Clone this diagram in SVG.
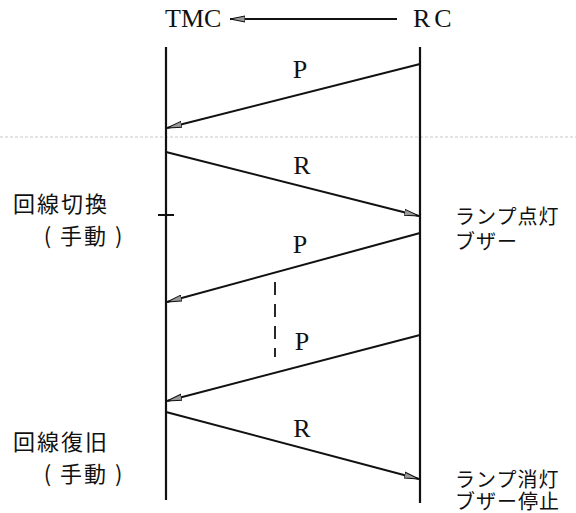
<svg xmlns="http://www.w3.org/2000/svg" width="576" height="513" viewBox="0 0 576 513">
<style>
.lat{font-family:"Liberation Serif","Times New Roman",serif;font-size:26px;fill:#111}
.jp{font-family:"Noto Sans CJK JP","Noto Sans",sans-serif;font-size:22px;fill:#111;letter-spacing:2px}
.jr{font-family:"Noto Sans CJK JP","Noto Sans",sans-serif;font-size:20px;fill:#111;letter-spacing:1px}
.life{stroke:#111;stroke-width:2.2;fill:none}
.msg{stroke:#111;stroke-width:2;fill:none;marker-end:url(#ah)}
</style>
<defs>
<marker id="ah" markerWidth="16" markerHeight="8" refX="15" refY="4" orient="auto" markerUnits="userSpaceOnUse">
<path d="M0,1 L15,4 L0,7 Z" fill="#999" stroke="#111" stroke-width="1"/>
</marker>
</defs>
<rect width="576" height="513" fill="#fff"/>
<line x1="0" y1="137" x2="576" y2="137" stroke="#c8c8c8" stroke-width="1" stroke-dasharray="3,2"/>
<g id="TMC">
<text class="lat" x="165" y="27">TMC</text>
<line class="life" x1="166" y1="47" x2="166" y2="500"/>
<line x1="158" y1="215" x2="174" y2="215" stroke="#111" stroke-width="2"/>
</g>
<g id="RC">
<text class="lat" x="413" y="27" letter-spacing="4">RC</text>
<line class="life" x1="420" y1="47" x2="420" y2="503"/>
</g>
<g id="left-labels">
<text class="jp" x="13" y="212">回線切換</text>
<text class="jp" x="84" y="244" text-anchor="middle">( 手動 )</text>
<text class="jp" x="13" y="450">回線復旧</text>
<text class="jp" x="84" y="482" text-anchor="middle">( 手動 )</text>
</g>
<g id="right-labels">
<text class="jr" x="455" y="224">ランプ点灯</text>
<text class="jr" x="455" y="249">ブザー</text>
<text class="jr" x="455" y="487">ランプ消灯</text>
<text class="jr" x="455" y="509">ブザー停止</text>
</g>
<g id="connectors">
<line class="msg" x1="397" y1="19" x2="230" y2="19" stroke-width="1.6"/>
<line class="msg" x1="420" y1="64" x2="167" y2="128"/>
<line class="msg" x1="166" y1="152" x2="419" y2="216"/>
<line class="msg" x1="420" y1="233" x2="167" y2="302"/>
<line class="msg" x1="420" y1="335" x2="167" y2="401"/>
<line class="msg" x1="166" y1="412" x2="419" y2="479"/>
<line x1="275" y1="282" x2="275" y2="357" stroke="#111" stroke-width="1.8" stroke-dasharray="13,9"/>
</g>
<g id="msg-labels">
<text class="lat" x="300" y="78" text-anchor="middle">P</text>
<text class="lat" x="302" y="174" text-anchor="middle">R</text>
<text class="lat" x="300" y="253" text-anchor="middle">P</text>
<text class="lat" x="302" y="350" text-anchor="middle">P</text>
<text class="lat" x="302" y="437" text-anchor="middle">R</text>
</g>
</svg>
